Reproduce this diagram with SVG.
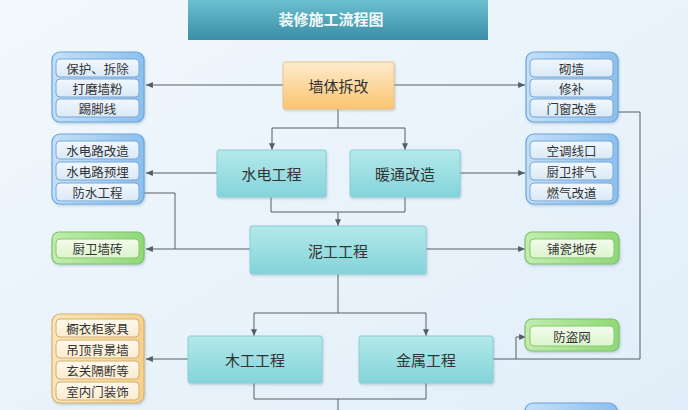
<svg xmlns="http://www.w3.org/2000/svg" width="688" height="410" viewBox="0 0 688 410">
<defs>
<linearGradient id="bg" x1="0" y1="0" x2="1" y2="1"><stop offset="0" stop-color="#f2f8fd"/><stop offset="1" stop-color="#e1eef9"/></linearGradient>
<linearGradient id="gTitle" x1="0" y1="0" x2="0" y2="1"><stop offset="0" stop-color="#6cbfd0"/><stop offset="1" stop-color="#3a8ea6"/></linearGradient>
<linearGradient id="gTeal" x1="0" y1="0" x2="0" y2="1"><stop offset="0" stop-color="#b4e9eb"/><stop offset="1" stop-color="#83d4d9"/></linearGradient>
<linearGradient id="gOrange" x1="0" y1="0" x2="0" y2="1"><stop offset="0" stop-color="#fdeccd"/><stop offset="1" stop-color="#fbc46f"/></linearGradient>
<linearGradient id="gBlueO" x1="0" y1="0" x2="1" y2="0"><stop offset="0" stop-color="#c4e0f8"/><stop offset="1" stop-color="#8cc0ee"/></linearGradient>
<linearGradient id="gBlueI" x1="0" y1="0" x2="0" y2="1"><stop offset="0" stop-color="#f1f7fd"/><stop offset="1" stop-color="#dae9f7"/></linearGradient>
<linearGradient id="gGreenO" x1="0" y1="0" x2="1" y2="0"><stop offset="0" stop-color="#c2ecb0"/><stop offset="1" stop-color="#8fd876"/></linearGradient>
<linearGradient id="gGreenI" x1="0" y1="0" x2="0" y2="1"><stop offset="0" stop-color="#f3fcec"/><stop offset="1" stop-color="#dcf4cd"/></linearGradient>
<linearGradient id="gOrO" x1="0" y1="0" x2="1" y2="0"><stop offset="0" stop-color="#fae6bb"/><stop offset="1" stop-color="#f4d18c"/></linearGradient>
<linearGradient id="gOrI" x1="0" y1="0" x2="0" y2="1"><stop offset="0" stop-color="#fef8ec"/><stop offset="1" stop-color="#fbecd0"/></linearGradient>
<filter id="sh" x="-10%" y="-10%" width="125%" height="130%"><feDropShadow dx="1" dy="1.5" stdDeviation="1.2" flood-color="#6a8aa0" flood-opacity="0.35"/></filter>
<marker id="arr" viewBox="0 0 8 7" refX="8" refY="3.5" markerWidth="7" markerHeight="6" markerUnits="userSpaceOnUse" orient="auto"><path d="M0,0 L8,3.5 L0,7 z" fill="#555e66"/></marker>
</defs>
<style>
text{font-family:"Noto Sans CJK SC","Noto Sans",sans-serif;text-anchor:middle;dominant-baseline:central;fill:#333}
.node{font-size:15px}
.row{font-size:12.5px}
.teal{fill:url(#gTeal);stroke:#8ccfd4;stroke-width:1;filter:url(#sh)}
.org{fill:url(#gOrange);stroke:#f0c27e;stroke-width:1;filter:url(#sh)}
.bo{fill:url(#gBlueO);stroke:#6aa6dd;stroke-width:1.2;filter:url(#sh)}
.bi{fill:url(#gBlueI);stroke:#7aa8d6;stroke-width:1}
.go{fill:url(#gGreenO);stroke:#7cc464;stroke-width:1.2;filter:url(#sh)}
.gi{fill:url(#gGreenI);stroke:#86c96e;stroke-width:1}
.oo{fill:url(#gOrO);stroke:#dcb268;stroke-width:1.2;filter:url(#sh)}
.oi{fill:url(#gOrI);stroke:#d4b070;stroke-width:1}
.c{fill:none;stroke:#555e66;stroke-width:1}
.a{marker-end:url(#arr)}
</style>
<rect width="688" height="410" fill="url(#bg)"/>

<g id="title">
<rect x="188" y="0" width="300" height="40" fill="url(#gTitle)"/>
<text x="331" y="18.5" style="font-size:15px;font-weight:bold;fill:#f4f9fb">装修施工流程图</text>
</g>

<g id="connectors">
<path class="c a" d="M283,85 H146"/>
<path class="c a" d="M394,85 H525"/>
<path class="c" d="M338,109 V128 M272,128 H405"/>
<path class="c a" d="M272,128 V150"/>
<path class="c a" d="M405,128 V150"/>
<path class="c a" d="M217,173 H146"/>
<path class="c a" d="M460,173 H525"/>
<path class="c" d="M271,197 V212 M405,197 V212 M271,212 H405"/>
<path class="c a" d="M338,212 V226"/>
<path class="c a" d="M250,249 H146"/>
<path class="c a" d="M175,249 V193 H132"/>
<path class="c a" d="M426,249 H525"/>
<path class="c" d="M338,274 V313 M254,313 H426"/>
<path class="c a" d="M254,313 V336"/>
<path class="c a" d="M426,313 V336"/>
<path class="c a" d="M188,359 H146"/>
<path class="c a" d="M493,359 H640 V112 H604"/>
<path class="c a" d="M516,359 V337 H526"/>
<path class="c" d="M254,383 V399 M426,383 V399 M254,399 H426 M338,399 V410"/>
</g>

<g id="n-qiangti">
<rect class="org" x="283" y="62" width="111" height="47" rx="2"/>
<text class="node" x="338.5" y="85.5">墙体拆改</text>
</g>
<g id="n-shuidian">
<rect class="teal" x="217" y="150" width="109" height="47" rx="2"/>
<text class="node" x="271.5" y="173.5">水电工程</text>
</g>
<g id="n-nuantong">
<rect class="teal" x="350" y="150" width="110" height="47" rx="2"/>
<text class="node" x="405" y="173.5">暖通改造</text>
</g>
<g id="n-nigong">
<rect class="teal" x="250" y="226" width="176" height="48" rx="2"/>
<text class="node" x="338" y="250">泥工工程</text>
</g>
<g id="n-mugong">
<rect class="teal" x="188" y="336" width="134" height="47" rx="2"/>
<text class="node" x="255" y="359.5">木工工程</text>
</g>
<g id="n-jinshu">
<rect class="teal" x="359" y="336" width="134" height="47" rx="2"/>
<text class="node" x="426" y="359.5">金属工程</text>
</g>

<g id="g-left1">
<rect class="bo" x="52" y="52" width="92" height="70" rx="8"/>
<rect class="bi" x="56" y="59" width="83" height="18" rx="4"/>
<rect class="bi" x="56" y="79" width="83" height="18" rx="4"/>
<rect class="bi" x="56" y="99" width="83" height="18" rx="4"/>
<text class="row" x="97.5" y="68">保护、拆除</text>
<text class="row" x="97.5" y="88">打磨墙粉</text>
<text class="row" x="97.5" y="108">踢脚线</text>
</g>
<g id="g-left2">
<rect class="bo" x="52" y="134" width="92" height="70" rx="8"/>
<rect class="bi" x="56" y="141" width="83" height="18" rx="4"/>
<rect class="bi" x="56" y="162" width="83" height="18" rx="4"/>
<rect class="bi" x="56" y="183" width="83" height="18" rx="4"/>
<text class="row" x="97.5" y="150">水电路改造</text>
<text class="row" x="97.5" y="171">水电路预埋</text>
<text class="row" x="97.5" y="192">防水工程</text>
</g>
<g id="g-right1">
<rect class="bo" x="526" y="52" width="92" height="70" rx="8"/>
<rect class="bi" x="530" y="59" width="83" height="18" rx="4"/>
<rect class="bi" x="530" y="79" width="83" height="18" rx="4"/>
<rect class="bi" x="530" y="99" width="83" height="18" rx="4"/>
<text class="row" x="571.5" y="68">砌墙</text>
<text class="row" x="571.5" y="88">修补</text>
<text class="row" x="571.5" y="108">门窗改造</text>
</g>
<g id="g-right2">
<rect class="bo" x="526" y="134" width="92" height="70" rx="8"/>
<rect class="bi" x="530" y="141" width="83" height="18" rx="4"/>
<rect class="bi" x="530" y="162" width="83" height="18" rx="4"/>
<rect class="bi" x="530" y="183" width="83" height="18" rx="4"/>
<text class="row" x="571.5" y="150">空调线口</text>
<text class="row" x="571.5" y="171">厨卫排气</text>
<text class="row" x="571.5" y="192">燃气改道</text>
</g>
<g id="g-chuwei">
<rect class="go" x="52" y="232" width="92" height="32" rx="7"/>
<rect class="gi" x="56" y="239" width="83" height="19" rx="4"/>
<text class="row" x="97.5" y="248.5">厨卫墙砖</text>
</g>
<g id="g-puci">
<rect class="go" x="525" y="232" width="94" height="32" rx="7"/>
<rect class="gi" x="530" y="239" width="84" height="19" rx="4"/>
<text class="row" x="572" y="248.5">铺瓷地砖</text>
</g>
<g id="g-fangdao">
<rect class="go" x="525" y="319" width="94" height="32" rx="7"/>
<rect class="gi" x="530" y="326" width="84" height="20" rx="4"/>
<text class="row" x="572" y="336">防盗网</text>
</g>
<g id="g-mugong-items">
<rect class="oo" x="52" y="314" width="92" height="89" rx="8"/>
<rect class="oi" x="56" y="319" width="83" height="18" rx="4"/>
<rect class="oi" x="56" y="340" width="83" height="18" rx="4"/>
<rect class="oi" x="56" y="361" width="83" height="18" rx="4"/>
<rect class="oi" x="56" y="382" width="83" height="18" rx="4"/>
<text class="row" x="97.5" y="328">橱衣柜家具</text>
<text class="row" x="97.5" y="349">吊顶背景墙</text>
<text class="row" x="97.5" y="370">玄关隔断等</text>
<text class="row" x="97.5" y="391">室内门装饰</text>
</g>
<g id="g-bottom-right">
<rect class="bo" x="525" y="403" width="92" height="60" rx="8"/>
</g>
</svg>
